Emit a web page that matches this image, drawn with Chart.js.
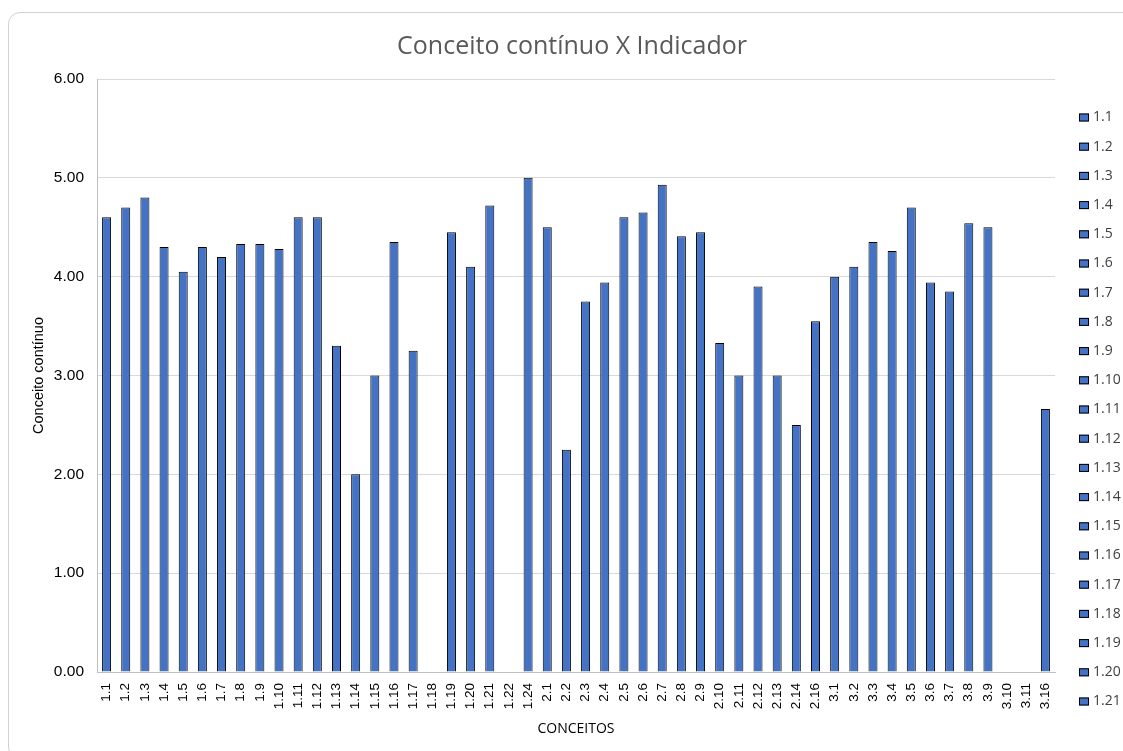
<!DOCTYPE html>
<html>
<head>
<meta charset="utf-8">
<script src="https://cdn.jsdelivr.net/npm/chart.js@4.4.0/dist/chart.umd.min.js"></script>
<style>
  body { margin: 0; background: #fff; overflow: hidden; }
  #frame { position: absolute; left: 8px; top: 12px; width: 1140px; height: 745px;
           border: 1px solid #d0d0d0; border-radius: 12px; }
  #chart { position: absolute; left: 0; top: 0; }
</style>
</head>
<body>
<div id="frame"></div>
<canvas id="chart" width="1123" height="751"></canvas>
<script>
// Categorias (conceitos) e valores do conceito contínuo
const categorias = ["1.1","1.2","1.3","1.4","1.5","1.6","1.7","1.8","1.9","1.10","1.11","1.12","1.13","1.14","1.15","1.16","1.17","1.18","1.19","1.20","1.21","1.22","1.24",
  "2.1","2.2","2.3","2.4","2.5","2.6","2.7","2.8","2.9","2.10","2.11","2.12","2.13","2.14","2.16",
  "3.1","3.2","3.3","3.4","3.5","3.6","3.7","3.8","3.9","3.10","3.11","3.16"];
const valores = [4.60,4.70,4.80,4.30,4.05,4.30,4.20,4.33,4.33,4.28,4.60,4.60,3.30,2.00,3.00,4.35,3.25,null,4.45,4.10,4.72,null,5.00,
  4.50,2.25,3.75,3.94,4.60,4.65,4.93,4.41,4.45,3.33,3.00,3.90,3.00,2.50,3.55,
  4.00,4.10,4.35,4.26,4.70,3.94,3.85,4.54,4.50,null,null,2.66];
const yTicks = [0, 1, 2, 3, 4, 5, 6];
// Legenda visível (cortada no original)
const legendaItens = categorias.slice(0, 21);

// Legenda desenhada à direita
const legendaPlugin = {
  id: "legendaLateral",
  afterDraw(chart) {
    const ctx = chart.ctx;
    ctx.save();
    ctx.font = "14px 'Open Sans'";
    ctx.textBaseline = "middle";
    legendaItens.forEach((txt, i) => {
      const y = 117.5 + i * 29.2;
      ctx.fillStyle = "#4472C4";
      ctx.fillRect(1079, y - 4, 10, 8);
      ctx.strokeStyle = "#000";
      ctx.lineWidth = 1;
      ctx.strokeRect(1079.5, y - 3.5, 9, 7);
      ctx.fillStyle = "#404040";
      ctx.fillText(txt, 1093, y);
    });
    ctx.restore();
  }
};

const ctx = document.getElementById("chart").getContext("2d");
new Chart(ctx, {
  type: "bar",
  data: {
    labels: categorias,
    datasets: [{
      label: "Conceito contínuo",
      data: valores,
      backgroundColor: "#4472C4",
      borderColor: "#000000",
      borderWidth: 1,
      categoryPercentage: 1,
      barPercentage: 0.47
    }]
  },
  options: {
    responsive: false,
    animation: false,
    layout: { padding: { left: 21, right: 0, top: 0, bottom: 14 } },
    plugins: {
      legend: { display: false },
      tooltip: { enabled: false },
      title: {
        display: true,
        text: "Conceito contínuo X Indicador",
        color: "#595959",
        font: { family: "'Open Sans'", size: 25, weight: "normal" },
        padding: { top: 32, bottom: 17 }
      }
    },
    scales: {
      x: {
        grid: { display: false, drawTicks: false },
        border: { color: "#bfbfbf" },
        ticks: {
          color: "#000",
          font: { family: "'Liberation Sans'", size: 13.5 },
          maxRotation: 90, minRotation: 90, autoSkip: false, padding: 11
        },
        title: {
          display: true, text: "CONCEITOS", color: "#000",
          font: { family: "'Open Sans'", size: 14 }, padding: { top: 2, bottom: 0 }
        },
        afterFit(scale) { scale.height = 65; }
      },
      y: {
        min: 0, max: 6,
        afterBuildTicks(scale) { scale.ticks = yTicks.map(v => ({ value: v })); },
        grid: { color: "#d9d9d9", drawTicks: false },
        border: { color: "#bfbfbf" },
        ticks: {
          color: "#000",
          font: { family: "'Liberation Sans'", size: 15.5 },
          padding: 13,
          callback: v => Number(v).toFixed(2)
        },
        title: {
          display: true, text: "Conceito contínuo", color: "#000",
          font: { family: "'Liberation Sans'", size: 14.5 }, padding: { top: 9, bottom: 6 }
        },
        afterFit(scale) { scale.width = 76; }
      },
      // eixo vazio à direita: reserva o espaço da legenda
      yLegenda: {
        position: "right",
        display: true,
        grid: { display: false, drawTicks: false },
        border: { display: false },
        ticks: { display: false },
        afterFit(scale) { scale.width = 68; }
      }
    }
  },
  plugins: [legendaPlugin]
});
</script>
</body>
</html>
